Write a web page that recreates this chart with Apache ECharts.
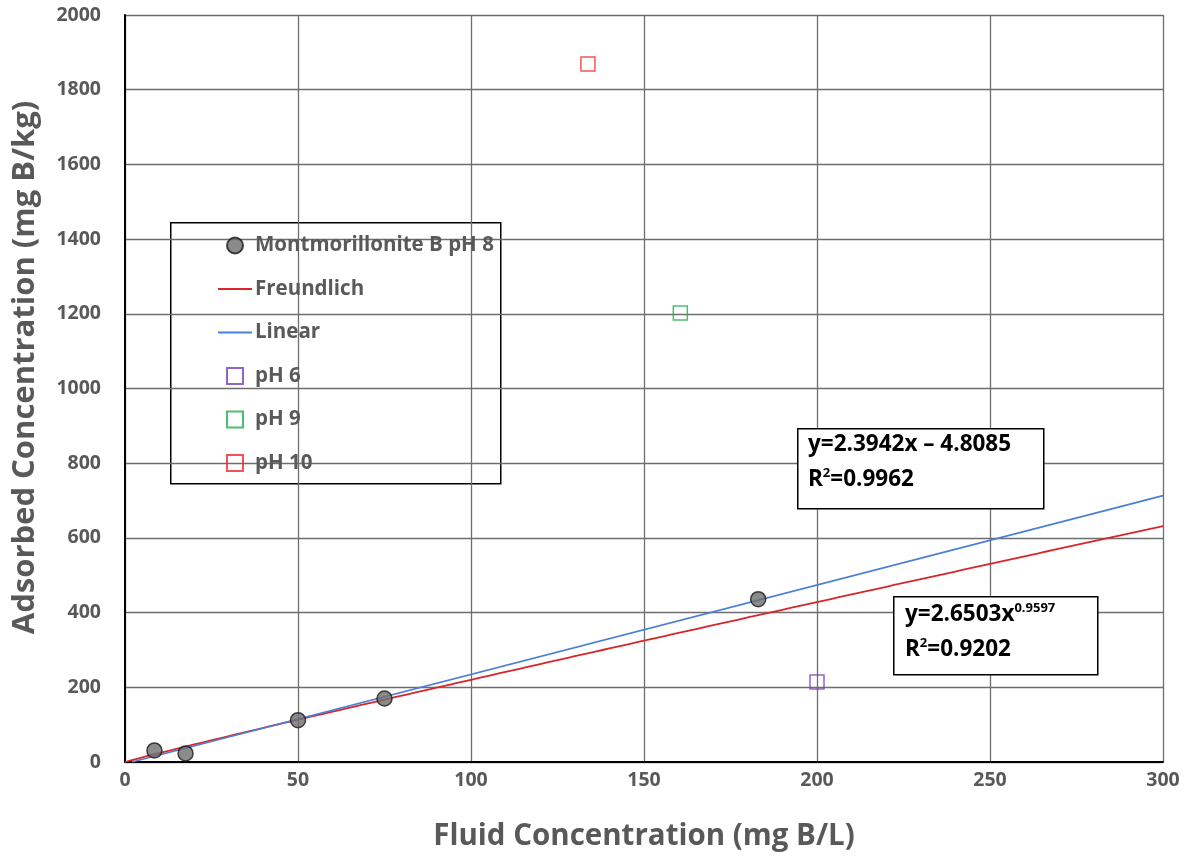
<!DOCTYPE html>
<html>
<head>
<meta charset="utf-8">
<script src="https://cdn.jsdelivr.net/npm/echarts@6/dist/echarts.min.js"></script>
<style>
  html, body { margin: 0; padding: 0; background: #fff; }
  #chart { width: 1197px; height: 861px; }
</style>
</head>
<body>
<div id="chart"></div>
<script>
// Measured sorption data (fluid mg B/L, adsorbed mg B/kg)
const montX = [8.5, 17.5, 50, 75, 183];
const montY = [31, 23, 112, 170, 436];
const pH6 = [[200, 214]];
const pH9 = [[160.5, 1202]];
const pH10 = [[133.8, 1869]];

// Fitted isotherm coefficients
const linSlope = 2.3942, linIntercept = -4.8085, linR2 = '0.9962';
const frK = 2.6503, frN = 0.9597, frR2 = '0.9202';

const xTicks = [0, 50, 100, 150, 200, 250, 300];
const yTicks = [0, 200, 400, 600, 800, 1000, 1200, 1400, 1600, 1800, 2000];

// Fitted lines built from the coefficients
const linStart = -linIntercept / linSlope;
const linearLine = [[linStart, 0], [300, linSlope * 300 + linIntercept]];
const freundLine = [];
for (let x = 0; x <= 300; x += 2) freundLine.push([x, frK * Math.pow(x, frN)]);

const textGray = '#595959';
const font = '"Open Sans", "Liberation Sans", sans-serif';
const red = '#d9262b', blue = '#4a7fd4';
const squareIcon = 'path://M0,0 L10,0 L10,10 L0,10 Z';
const lineIcon = 'path://M0,0 L34,0 L34,2 L0,2 Z';

const chart = echarts.init(document.getElementById('chart'), null, { renderer: 'canvas' });
chart.setOption({
  animation: false,
  backgroundColor: '#fff',
  grid: { left: 125, right: 34, top: 15, bottom: 99 },
  xAxis: {
    type: 'value', min: 0, max: 300, interval: 50,
    name: 'Fluid Concentration (mg B/L)', nameLocation: 'middle', nameGap: 60,
    nameTextStyle: { fontFamily: font, fontWeight: 'bold', fontSize: 29.5, color: textGray },
    axisLine: { lineStyle: { color: '#000', width: 2 } },
    axisTick: { show: false },
    axisLabel: {
      fontFamily: font, fontWeight: 'bold', fontSize: 19.5, color: textGray, margin: 8,
      formatter: v => xTicks.includes(v) ? String(v) : ''
    },
    splitLine: { show: true, lineStyle: { color: '#6e6e6e', width: 1.3 } }
  },
  yAxis: {
    type: 'value', min: 0, max: 2000, interval: 200,
    name: 'Adsorbed Concentration (mg B/kg)', nameLocation: 'middle', nameGap: 84,
    nameTextStyle: { fontFamily: font, fontWeight: 'bold', fontSize: 31, color: textGray, padding: [0, 0, 0, 42] },
    axisLine: { show: true, lineStyle: { color: '#000', width: 2 } },
    axisTick: { show: false },
    axisLabel: {
      fontFamily: font, fontWeight: 'bold', fontSize: 19.5, color: textGray, margin: 24,
      formatter: v => yTicks.includes(v) ? String(v) : ''
    },
    splitLine: { show: true, lineStyle: { color: '#6e6e6e', width: 1.3 } }
  },
  legend: {
    orient: 'vertical', left: 213, top: 230,
    itemGap: 22.5, itemWidth: 34, itemHeight: 16,
    textStyle: { fontFamily: font, fontWeight: 'bold', fontSize: 20.5, color: textGray, padding: [0, 0, 0, -2] },
    data: [
      { name: 'Montmorillonite B pH 8' },
      { name: 'Freundlich', icon: lineIcon, itemStyle: { color: red, borderWidth: 0 } },
      { name: 'Linear', icon: lineIcon, itemStyle: { color: blue, borderWidth: 0 } },
      { name: 'pH 6', icon: squareIcon },
      { name: 'pH 9', icon: squareIcon },
      { name: 'pH 10', icon: squareIcon }
    ]
  },
  graphic: [
    {
      type: 'rect', left: 170, top: 222, z: 0,
      shape: { width: 330, height: 261 },
      style: { fill: '#fff', stroke: '#000', lineWidth: 1.5 }
    },
    {
      type: 'rect', left: 797, top: 428, z: 10,
      shape: { width: 246, height: 80 },
      style: { fill: '#fff', stroke: '#000', lineWidth: 1.5 }
    },
    {
      type: 'text', left: 808, top: 433, z: 11,
      style: {
        text: '{b|y=' + linSlope + 'x \u2013 ' + Math.abs(linIntercept) + '}\n{b|R}{s|2}{b|=' + linR2 + '}',
        rich: {
          b: { fontFamily: font, fontWeight: 'bold', fontSize: 22.5, fill: '#000', lineHeight: 35 },
          s: { fontFamily: font, fontWeight: 'bold', fontSize: 13, fill: '#000', lineHeight: 35, padding: [0, 0, 12, 0] }
        }
      }
    },
    {
      type: 'rect', left: 893, top: 596, z: 10,
      shape: { width: 204, height: 78 },
      style: { fill: '#fff', stroke: '#000', lineWidth: 1.5 }
    },
    {
      type: 'text', left: 905, top: 602, z: 11,
      style: {
        text: '{b|y=' + frK + 'x}{s|' + frN + '}\n{b|R}{s|2}{b|=' + frR2 + '}',
        rich: {
          b: { fontFamily: font, fontWeight: 'bold', fontSize: 22.5, fill: '#000', lineHeight: 35 },
          s: { fontFamily: font, fontWeight: 'bold', fontSize: 13, fill: '#000', lineHeight: 35, padding: [0, 0, 12, 0] }
        }
      }
    }
  ],
  series: [
    {
      name: 'Freundlich', type: 'line', data: freundLine, symbol: 'none',
      lineStyle: { color: red, width: 1.8 }, itemStyle: { color: red }, z: 3
    },
    {
      name: 'Linear', type: 'line', data: linearLine, symbol: 'none',
      lineStyle: { color: blue, width: 1.8 }, itemStyle: { color: blue }, z: 3
    },
    {
      name: 'Montmorillonite B pH 8', type: 'scatter',
      data: montX.map((x, i) => [x, montY[i]]),
      symbol: 'circle', symbolSize: 15,
      itemStyle: { color: '#6e6e6e', borderColor: '#1a1a1a', borderWidth: 1.5 }, z: 5
    },
    {
      name: 'pH 6', type: 'scatter', data: pH6, symbol: 'rect', symbolSize: 14,
      itemStyle: { color: 'rgba(255,255,255,0)', borderColor: '#7a3fb5', borderWidth: 1.5 }, z: 5
    },
    {
      name: 'pH 9', type: 'scatter', data: pH9, symbol: 'rect', symbolSize: 14,
      itemStyle: { color: 'rgba(255,255,255,0)', borderColor: '#1fae4b', borderWidth: 1.5 }, z: 5
    },
    {
      name: 'pH 10', type: 'scatter', data: pH10, symbol: 'rect', symbolSize: 14,
      itemStyle: { color: 'rgba(255,255,255,0)', borderColor: '#f0282d', borderWidth: 1.5 }, z: 5
    }
  ]
});
</script>
</body>
</html>
